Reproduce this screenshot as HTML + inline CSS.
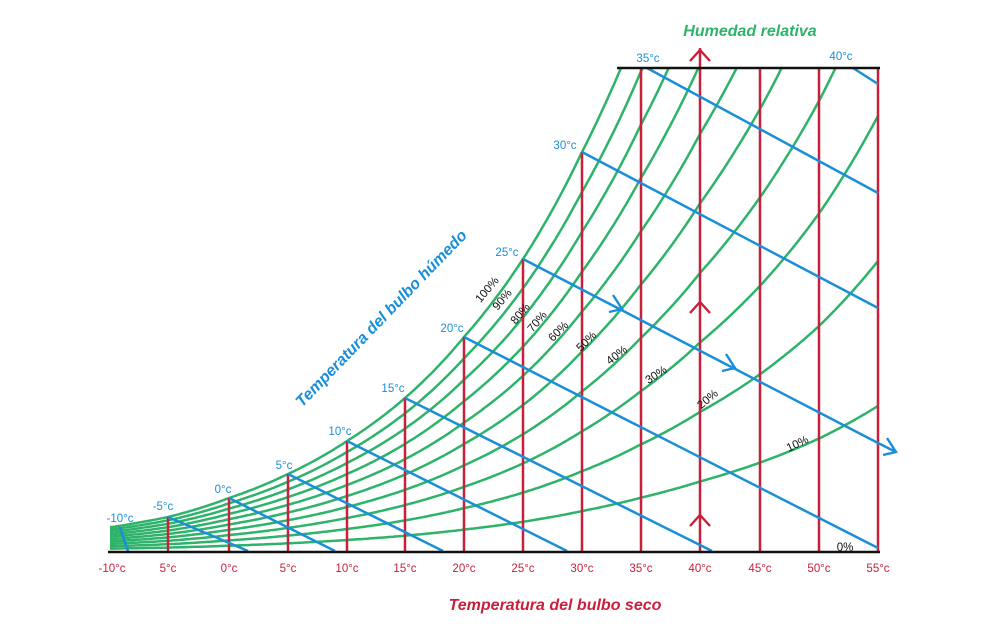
<!DOCTYPE html>
<html><head><meta charset="utf-8"><style>
html,body{margin:0;padding:0;background:#fff}
svg{display:block;font-family:"Liberation Sans",sans-serif}
</style></head><body>
<svg id="s" width="1000" height="636" viewBox="0 0 1000 636" xmlns="http://www.w3.org/2000/svg">
<defs><clipPath id="c"><rect x="108" y="68" width="772" height="484"/></clipPath></defs>
<g id="green" clip-path="url(#c)" fill="none" stroke="#2db36a" stroke-width="2.5"></g>
<g id="red" stroke="#c8203a" stroke-width="2.5"></g>
<g id="blue" stroke="#1a8fd8" stroke-width="2.5" fill="none"></g>
<line x1="108" y1="552" x2="880" y2="552" stroke="#111" stroke-width="2.5"/>
<line x1="617" y1="68" x2="880" y2="68" stroke="#111" stroke-width="2.5"/>
<g id="arrows" fill="none" stroke-width="2.4"></g>
<g id="txt"></g>
<text x="750" y="36" fill="#2db36a" font-size="16" font-weight="bold" font-style="italic" text-anchor="middle">Humedad relativa</text>
<text x="555" y="610" fill="#c8203a" font-size="16" font-weight="bold" font-style="italic" text-anchor="middle">Temperatura del bulbo seco</text>
<text x="0" y="0" fill="#1a8fd8" font-size="16" font-weight="bold" font-style="italic" text-anchor="middle" transform="translate(385,322) rotate(-46)">Temperatura del bulbo húmedo</text>
</svg>
<script>
var NS="http://www.w3.org/2000/svg";
function el(p,t,a,txt){var e=document.createElementNS(NS,t);for(var k in a)e.setAttribute(k,a[k]);if(txt)e.textContent=txt;document.getElementById(p).appendChild(e);return e;}
var Ts=[-10,-5,0,5,10,15,20,25,30,35,40,45,50,55];
var Xs=[112,168,229,288,347,405,464,523,582,641,700,760,819,878];
var Hs=[24,34,53,77,110,153,214,292,399,533,695,884,1125,1450];
function interp(T,arr,log){var i=Math.min(Math.floor((T+10)/5),12);var f=(T-Ts[i])/5;
 if(log)return Math.exp(Math.log(arr[i])+f*(Math.log(arr[i+1])-Math.log(arr[i])));return arr[i]+f*(arr[i+1]-arr[i]);}
var B=551;
for(var r=1;r<=10;r++){var d="";for(var T=-10.5;T<=55;T+=0.25){var tt=Math.max(T,-10);var x=T<-10?110:interp(tt,Xs);var y=B-r/10*interp(tt,Hs,true);d+=(d?"L":"M")+x.toFixed(1)+","+y.toFixed(1);}
 el("green","path",{d:d});}
for(var i=1;i<Ts.length;i++){var y=Math.max(68,B-Hs[i]);el("red","line",{x1:Xs[i],y1:552,x2:Xs[i],y2:y});}
el("red","line",{x1:700,y1:68,x2:700,y2:48});
var bl=[[120,527,128,551],[168,517,248,551],[229,498,335,551],[288,474,443,551],[347,441,567,551],[405,398,712,551],[464,337,878,548],[523,259,878,443],[582,152,878,308],[647,68,878,193],[853,68,878,84]];
bl.forEach(function(b){el("blue","line",{x1:b[0],y1:b[1],x2:b[2],y2:b[3]});});
el("blue","line",{x1:878,y1:443,x2:896,y2:452});
[[700,50],[700,302],[700,515]].forEach(function(p){el("arrows","path",{d:"M"+(p[0]-10)+","+(p[1]+11)+"L"+p[0]+","+p[1]+"L"+(p[0]+10)+","+(p[1]+11),stroke:"#c8203a"});});
[[622,309],[735,368],[896,452]].forEach(function(p){var x=p[0],y=p[1];el("arrows","path",{d:"M"+(x-9)+","+(y-14)+"L"+x+","+y+"L"+(x-13)+","+(y+3),stroke:"#1a8fd8"});});
var lab=["-10°c","5°c","0°c","5°c","10°c","15°c","20°c","25°c","30°c","35°c","40°c","45°c","50°c","55°c"];
for(var i=0;i<14;i++)el("txt","text",{x:Xs[i],y:572,fill:"#c8203a","font-size":"11.5","text-anchor":"middle"},lab[i]);
var bt=[["-10°c",120,522],["-5°c",163,510],["0°c",223,493],["5°c",284,469],["10°c",340,435],["15°c",393,392],["20°c",452,332],["25°c",507,256],["30°c",565,149],["35°c",648,62],["40°c",841,60]];
bt.forEach(function(b){el("txt","text",{x:b[1],y:b[2],fill:"#1a8fd8","font-size":"11.5","text-anchor":"middle"},b[0]);});
var rl=[["100%",490,292,-50],["90%",505,302,-50],["80%",523,316,-50],["70%",540,324,-50],["60%",561,334,-45],["50%",589,344,-45],["40%",619,358,-38],["30%",658,378,-33],["20%",710,402,-40],["10%",799,447,-25],["0%",845,551,0]];
rl.forEach(function(b){el("txt","text",{x:0,y:0,fill:"#111","font-size":"11.5","text-anchor":"middle",transform:"translate("+b[1]+","+b[2]+") rotate("+b[3]+")"},b[0]);});
</script>
</body></html>
